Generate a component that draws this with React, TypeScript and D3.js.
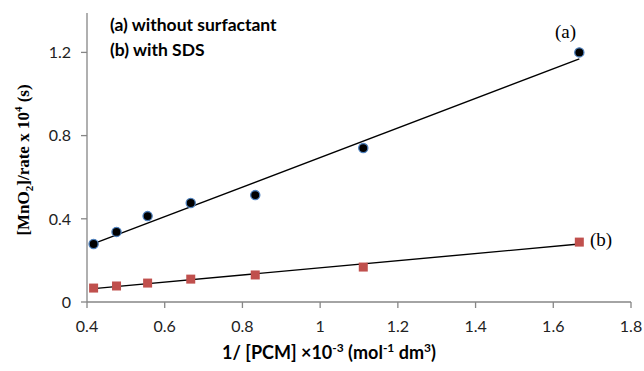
import React from 'react';
import * as d3 from 'd3';

// 1/[PCM] x 10^-3
const xValues = [0.417, 0.476, 0.556, 0.667, 0.833, 1.111, 1.667];
// (a) without surfactant
const seriesA = [0.279, 0.337, 0.413, 0.476, 0.514, 0.74, 1.2];
// (b) with SDS
const seriesB = [0.067, 0.077, 0.091, 0.11, 0.13, 0.168, 0.288];

const xTicks = [0.4, 0.6, 0.8, 1, 1.2, 1.4, 1.6, 1.8];
const yTicks = [0, 0.4, 0.8, 1.2];

const W = 644;
const H = 371;
const axisColor = '#868686';
const tickFont = 'Lato, "Open Sans", sans-serif';
const serif = '"Liberation Serif", "DejaVu Serif", serif';

// least-squares linear trendline
function fit(xs: number[], ys: number[]) {
    const mx = d3.mean(xs) as number;
    const my = d3.mean(ys) as number;
    let num = 0;
    let den = 0;
    xs.forEach((x, i) => {
        num += (x - mx) * (ys[i] - my);
        den += (x - mx) * (x - mx);
    });
    const slope = num / den;
    return (x: number) => my + slope * (x - mx);
}

const App: React.FC = () => {
    const x = d3.scaleLinear().domain([0.4, 1.8]).range([87, 631]);
    const y = d3.scaleLinear().domain([0, 1.2]).range([302, 52.4]);

    const fa = fit(xValues, seriesA);
    const fb = fit(xValues, seriesB);
    const x0 = xValues[0];
    const x1 = xValues[xValues.length - 1];

    const line = d3.line<[number, number]>()
        .x(d => x(d[0]))
        .y(d => y(d[1]));

    return (
        <svg width={W} height={H} style={{ position: 'absolute', left: 0, top: 0, background: '#fff' }}>
            {/* axes */}
            <line x1={x(0.4)} x2={x(0.4)} y1={13} y2={y(0)} stroke={axisColor} strokeWidth={1.3} />
            <line x1={x(0.4)} x2={x(1.8)} y1={y(0)} y2={y(0)} stroke={axisColor} strokeWidth={1.3} />
            {yTicks.map(t => (
                <g key={'y' + t}>
                    <line x1={x(0.4) - 6} x2={x(0.4)} y1={y(t)} y2={y(t)} stroke={axisColor} strokeWidth={1.3} />
                    <text x={71} y={y(t)} dy="0.36em" textAnchor="end" fontFamily={tickFont} fontSize={16} fill="#222">
                        {t === 0 ? '0' : t.toFixed(1)}
                    </text>
                </g>
            ))}
            {xTicks.map(t => (
                <g key={'x' + t}>
                    <line x1={x(t)} x2={x(t)} y1={y(0)} y2={y(0) + 6} stroke={axisColor} strokeWidth={1.3} />
                    <text x={x(t)} y={332} textAnchor="middle" fontFamily={tickFont} fontSize={16} fill="#222">
                        {Number.isInteger(t) ? String(t) : t.toFixed(1)}
                    </text>
                </g>
            ))}

            {/* trendlines */}
            <path d={line([[x0, fa(x0)], [x1, fa(x1)]]) || ''} stroke="#000" strokeWidth={1.4} fill="none" />
            <path d={line([[x0, fb(x0)], [x1, fb(x1)]]) || ''} stroke="#000" strokeWidth={1.4} fill="none" />

            {/* series (a) */}
            {xValues.map((v, i) => (
                <circle key={'a' + i} cx={x(v)} cy={y(seriesA[i])} r={4.6} fill="#000" stroke="#4f81bd" strokeWidth={1.3} />
            ))}
            {/* series (b) */}
            {xValues.map((v, i) => (
                <rect key={'b' + i} x={x(v) - 4.5} y={y(seriesB[i]) - 4.5} width={9} height={9} fill="#c0504d" />
            ))}

            {/* legend text */}
            <text x={110} y={31} fontFamily={tickFont} fontWeight="bold" fontSize={17.5} fill="#000">(a) without surfactant</text>
            <text x={110} y={56} fontFamily={tickFont} fontWeight="bold" fontSize={17.5} fill="#000">(b) with SDS</text>

            {/* curve labels */}
            <text x={555} y={38} fontFamily={serif} fontSize={19} fill="#000">(a)</text>
            <text x={590} y={246} fontFamily={serif} fontSize={19} fill="#000">(b)</text>

            {/* axis titles */}
            <text x={329} y={359} textAnchor="middle" fontFamily={tickFont} fontWeight="bold" fontSize={18} fill="#000">
                1/ [PCM] ×10
                <tspan fontSize={12} dy={-7}>-3</tspan>
                <tspan dy={7}> (mol</tspan>
                <tspan fontSize={12} dy={-7}>-1</tspan>
                <tspan dy={7}> dm</tspan>
                <tspan fontSize={12} dy={-7}>3</tspan>
                <tspan dy={7}>)</tspan>
            </text>
            <text transform="translate(29,160) rotate(-90)" textAnchor="middle"
                fontFamily={serif} fontWeight="bold" fontSize={17} fill="#000">
                [MnO
                <tspan fontSize={11} dy={4}>2</tspan>
                <tspan dy={-4}>]/rate x 10</tspan>
                <tspan fontSize={11} dy={-7}>4</tspan>
                <tspan dy={7}> (s)</tspan>
            </text>
        </svg>
    );
};

export default App;
